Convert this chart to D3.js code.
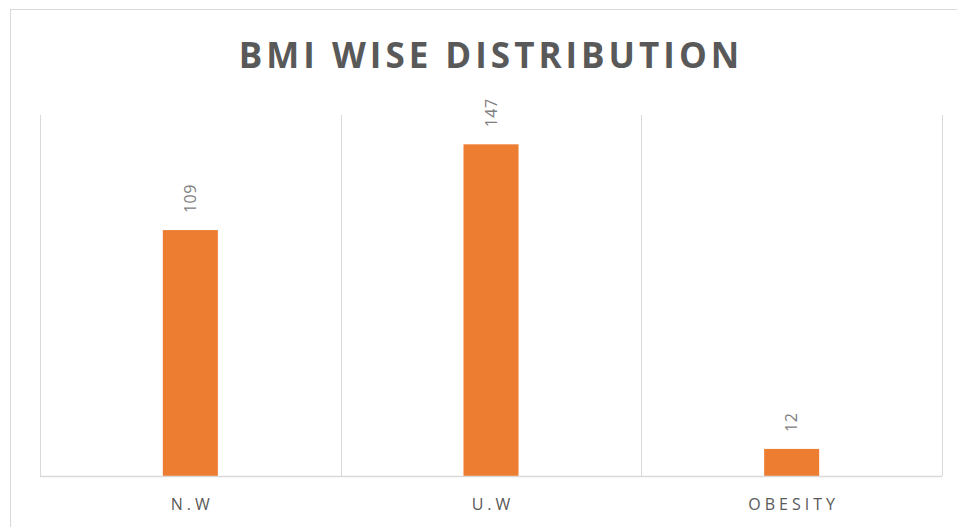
<!DOCTYPE html>
<html>
<head>
<meta charset="utf-8">
<script src="https://cdn.jsdelivr.net/npm/d3@7"></script>
<style>
  body { margin: 0; background: #fff; }
  svg { display: block; }
</style>
</head>
<body>
<div id="chart"></div>
<script>
(function() {

    var categories = ["N.W", "U.W", "OBESITY"];
    var counts = [109, 147, 12];
    var chartTitle = "BMI WISE DISTRIBUTION";

    var width = 957, height = 527;
    var plot = { left: 40, right: 942, top: 115, bottom: 476 };

    var svg = d3.select("#chart").append("svg")
        .attr("width", width)
        .attr("height", height);

    // chart frame
    svg.append("rect")
        .attr("x", 10.5).attr("y", 9.5)
        .attr("width", 960).attr("height", 540)
        .attr("fill", "#fff")
        .attr("stroke", "#d9d9d9");

    var x = d3.scaleBand()
        .domain(categories)
        .range([plot.left, plot.right])
        .paddingInner(0.817)
        .paddingOuter(0.4085);

    var y = d3.scaleLinear()
        .domain([0, 160])
        .range([plot.bottom, plot.top]);

    // vertical gridlines between categories
    var edges = d3.range(categories.length + 1).map(function(i) {
        return plot.left + i * (plot.right - plot.left) / categories.length;
    });
    svg.append("g").selectAll("line")
        .data(edges)
        .enter().append("line")
        .attr("x1", function(d) { return Math.round(d) + 0.5; })
        .attr("x2", function(d) { return Math.round(d) + 0.5; })
        .attr("y1", plot.top)
        .attr("y2", plot.bottom)
        .attr("stroke", "#d9d9d9");

    svg.append("g").selectAll("rect")
        .data(counts)
        .enter().append("rect")
        .attr("x", function(d, i) { return x(categories[i]); })
        .attr("y", function(d) { return y(d); })
        .attr("width", x.bandwidth())
        .attr("height", function(d) { return y(0) - y(d); })
        .attr("fill", "#ed7d31");

    // baseline
    svg.append("line")
        .attr("x1", plot.left).attr("x2", plot.right)
        .attr("y1", plot.bottom + 0.5).attr("y2", plot.bottom + 0.5)
        .attr("stroke", "#d9d9d9")
        .attr("stroke-width", 1.5);

    // value labels, rotated
    svg.append("g").selectAll("text")
        .data(counts)
        .enter().append("text")
        .attr("transform", function(d, i) {
            var cx = x(categories[i]) + x.bandwidth() / 2 + 5.5;
            return "translate(" + cx + "," + (y(d) - 17) + ") rotate(-90)";
        })
        .attr("text-anchor", "start")
        .style("font-family", "'Open Sans', sans-serif")
        .style("font-size", "16px")
        .style("letter-spacing", "0.5px")
        .style("fill", "#808080")
        .text(function(d) { return d; });

    // category labels
    svg.append("g").selectAll("text")
        .data(categories)
        .enter().append("text")
        .attr("x", function(d) { return x(d) + x.bandwidth() / 2 + 2; })
        .attr("y", 510)
        .attr("text-anchor", "middle")
        .style("font-family", "'Open Sans', sans-serif")
        .style("font-size", "16px")
        .style("letter-spacing", "4px")
        .style("fill", "#595959")
        .text(function(d) { return d; });

    svg.append("text")
        .attr("x", 491)
        .attr("y", 68)
        .attr("text-anchor", "middle")
        .style("font-family", "'Open Sans', sans-serif")
        .style("font-weight", "bold")
        .style("font-size", "35px")
        .style("letter-spacing", "4px")
        .style("fill", "#595959")
        .text(chartTitle);

})();
</script>
</body>
</html>
